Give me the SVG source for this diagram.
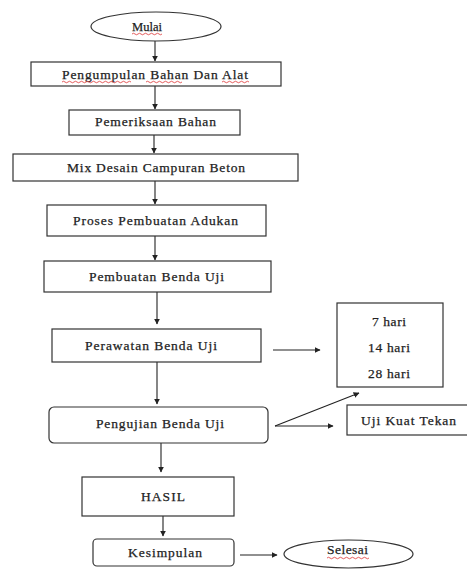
<svg xmlns="http://www.w3.org/2000/svg" width="467" height="569" viewBox="0 0 467 569">
<style>
.b{fill:#fff;stroke:#333;stroke-width:1.2}
.t{font-family:'Liberation Serif','DejaVu Serif','Times New Roman',serif;font-size:13.5px;fill:#222;stroke:#222;stroke-width:0.25}
.c{stroke:#222;stroke-width:1.1;fill:none}
.sq{stroke:#d33;stroke-width:0.8;fill:none}
</style>
<defs>
<marker id="ah" viewBox="0 0 10 10" refX="9" refY="5" markerWidth="6" markerHeight="6" orient="auto" markerUnits="userSpaceOnUse">
<path d="M0,0 L10,5 L0,10 z" fill="#222"/>
</marker>
</defs>
<rect width="467" height="569" fill="#fff"/>
<g id="connectors">
<line class="c" x1="155" y1="41" x2="155" y2="61" marker-end="url(#ah)"/>
<line class="c" x1="155" y1="86" x2="155" y2="109" marker-end="url(#ah)"/>
<line class="c" x1="154" y1="135" x2="154" y2="153" marker-end="url(#ah)"/>
<line class="c" x1="155" y1="181" x2="155" y2="204" marker-end="url(#ah)"/>
<line class="c" x1="155" y1="236" x2="155" y2="260" marker-end="url(#ah)"/>
<line class="c" x1="157" y1="292" x2="157" y2="324" marker-end="url(#ah)"/>
<line class="c" x1="273" y1="350" x2="320" y2="350" marker-end="url(#ah)"/>
<line class="c" x1="157" y1="362" x2="157" y2="404" marker-end="url(#ah)"/>
<line class="c" x1="275" y1="426" x2="359" y2="393" marker-end="url(#ah)"/>
<line class="c" x1="275" y1="426" x2="333" y2="426" marker-end="url(#ah)"/>
<line class="c" x1="161" y1="443" x2="161" y2="472" marker-end="url(#ah)"/>
<line class="c" x1="163" y1="516" x2="163" y2="536" marker-end="url(#ah)"/>
<line class="c" x1="240" y1="555" x2="277" y2="555" marker-end="url(#ah)"/>
</g>
<g id="mulai">
<ellipse class="b" cx="156" cy="26.5" rx="65" ry="14.5"/>
<text class="t" x="132" y="31" textLength="30" lengthAdjust="spacingAndGlyphs">Mulai</text>
<path class="sq" d="M132,34 q1.5,-1.5 3,0 t3,0 t3,0 t3,0 t3,0 t3,0 t3,0 t3,0 t3,0 t3,0"/>
</g>
<g id="pengumpulan">
<rect class="b" x="31" y="62" width="250" height="24"/>
<text class="t" x="62" y="79" textLength="186" lengthAdjust="spacing">Pengumpulan Bahan Dan Alat</text>
<path class="sq" d="M62,82 q1.5,-1.5 3,0 t3,0 t3,0 t3,0 t3,0 t3,0 t3,0 t3,0 t3,0 t3,0 t3,0 t3,0 t3,0 t3,0 t3,0 t3,0 t3,0 t3,0 t3,0 t3,0 t3,0 t3,0 t3,0 M146,82 q1.5,-1.5 3,0 t3,0 t3,0 t3,0 t3,0 t3,0 t3,0 t3,0 t3,0 t3,0 t3,0 t3,0 M222,82 q1.5,-1.5 3,0 t3,0 t3,0 t3,0 t3,0 t3,0 t3,0 t3,0 t3,0"/>
</g>
<g id="pemeriksaan">
<rect class="b" x="69" y="110" width="171" height="25"/>
<text class="t" x="95" y="126" textLength="121" lengthAdjust="spacing">Pemeriksaan Bahan</text>
</g>
<g id="mix">
<rect class="b" x="13" y="154" width="285" height="27"/>
<text class="t" x="67" y="172" textLength="178" lengthAdjust="spacing">Mix Desain Campuran Beton</text>
</g>
<g id="proses">
<rect class="b" x="47" y="205" width="219" height="31"/>
<text class="t" x="73" y="225" textLength="165" lengthAdjust="spacing">Proses Pembuatan Adukan</text>
</g>
<g id="pembuatan">
<rect class="b" x="44" y="261" width="227" height="31"/>
<text class="t" x="89" y="281" textLength="135" lengthAdjust="spacing">Pembuatan Benda Uji</text>
</g>
<g id="perawatan">
<rect class="b" x="52" y="329" width="209" height="33"/>
<text class="t" x="85" y="350" textLength="132" lengthAdjust="spacing">Perawatan Benda Uji</text>
</g>
<g id="hari">
<rect class="b" x="337" y="303" width="106" height="84"/>
<text class="t" x="372" y="326" textLength="34" lengthAdjust="spacing">7 hari</text>
<text class="t" x="368" y="352" textLength="42" lengthAdjust="spacing">14 hari</text>
<text class="t" x="368" y="378" textLength="42" lengthAdjust="spacing">28 hari</text>
</g>
<g id="pengujian">
<rect class="b" x="49" y="407" width="219" height="36" rx="5"/>
<text class="t" x="96" y="428" textLength="128" lengthAdjust="spacing">Pengujian Benda Uji</text>
</g>
<g id="ujikuat">
<rect class="b" x="347" y="405" width="125" height="30"/>
<text class="t" x="361" y="425" textLength="95" lengthAdjust="spacing">Uji Kuat Tekan</text>
</g>
<g id="hasil">
<rect class="b" x="82" y="477" width="152" height="39"/>
<text class="t" x="141" y="501" textLength="44" lengthAdjust="spacing">HASIL</text>
</g>
<g id="kesimpulan">
<rect class="b" x="93" y="539" width="141" height="27" rx="4"/>
<text class="t" x="128" y="557" textLength="74" lengthAdjust="spacing">Kesimpulan</text>
</g>
<g id="selesai">
<ellipse class="b" cx="348.5" cy="554" rx="64.5" ry="14"/>
<text class="t" x="327" y="554" textLength="41" lengthAdjust="spacing">Selesai</text>
<path class="sq" d="M327,558 q1.5,-1.5 3,0 t3,0 t3,0 t3,0 t3,0 t3,0 t3,0 t3,0 t3,0 t3,0 t3,0 t3,0 t3,0 t3,0"/>
</g>
</svg>
